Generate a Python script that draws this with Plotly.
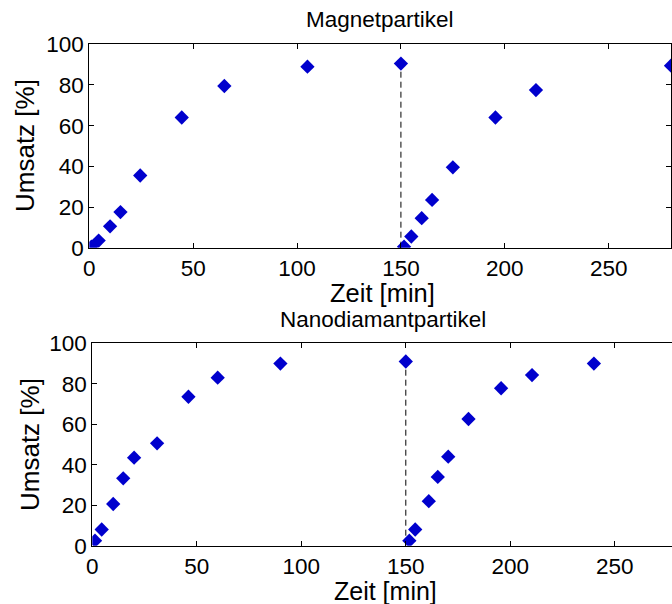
import plotly.graph_objects as go

# ---- data ----
mag_t = [1, 4.5, 10, 15, 24.5, 44.5, 65, 105, 150, 151.5, 155, 160, 165, 175, 195.5, 215, 280]
mag_u = [0.5, 3.5, 10.5, 17.5, 35.5, 64, 79.5, 89, 90.5, 0.5, 5.5, 14.5, 23.5, 39.5, 64, 77.5, 89.5]

nano_t = [1.3, 4.5, 10, 14.8, 20, 31, 46, 60, 90, 150, 151.7, 154.5, 161, 165.3, 170.3, 180, 195.6, 210.4, 240]
nano_u = [2.5, 8, 20.6, 33.3, 43.5, 50.6, 73.6, 83, 90, 91, 2.5, 8, 22, 34, 44, 62.6, 77.8, 84.3, 90]

mag_line_t = [150, 150]
mag_line_u = [0, 90.5]
nano_line_t = [150, 150]
nano_line_u = [0, 91]

titles = ["Magnetpartikel", "Nanodiamantpartikel"]
xlabel = "Zeit [min]"
ylabel = "Umsatz [%]"

W, H = 672, 604
BLUE = "rgb(0,0,205)"
FONT = "Liberation Sans, Arial, Helvetica, sans-serif"

fig = go.Figure()

# top
fig.add_trace(go.Scatter(x=mag_line_t, y=mag_line_u, mode="lines",
                         line=dict(color="black", width=1, dash="6px,4px"),
                         xaxis="x", yaxis="y", showlegend=False, hoverinfo="skip"))
fig.add_trace(go.Scatter(x=mag_t, y=mag_u, mode="markers",
                         marker=dict(symbol="diamond", size=11, color=BLUE, line=dict(width=0)),
                         xaxis="x", yaxis="y", showlegend=False))
# bottom
fig.add_trace(go.Scatter(x=nano_line_t, y=nano_line_u, mode="lines",
                         line=dict(color="black", width=1, dash="6px,4px"),
                         xaxis="x2", yaxis="y2", showlegend=False, hoverinfo="skip"))
fig.add_trace(go.Scatter(x=nano_t, y=nano_u, mode="markers",
                         marker=dict(symbol="diamond", size=11, color=BLUE, line=dict(width=0)),
                         xaxis="x2", yaxis="y2", showlegend=False))

def px_x(p):
    return p / W

def px_y(p):
    return 1 - p / H

ax_common = dict(showgrid=False, zeroline=False, showline=True, linecolor="black", linewidth=1,
                 ticks="inside", ticklen=5, tickcolor="black", tickwidth=1, automargin=False,
                 tickfont=dict(family=FONT, size=22.5, color="black"))

top_left, top_right = 89.3, 671.0
bot_left, bot_right = 92.3, 672.0

fig.update_layout(
    width=W, height=H,
    margin=dict(l=0, r=0, t=0, b=0, pad=0, autoexpand=False),
    paper_bgcolor="white", plot_bgcolor="white",
    font=dict(family=FONT, color="black"),
    xaxis=dict(**ax_common, domain=[px_x(top_left), px_x(top_right)], range=[0, 280],
               dtick=50, tick0=0, mirror="ticks", anchor="y"),
    yaxis=dict(**ax_common, domain=[px_y(247.7), px_y(44.3)], range=[0, 100], dtick=20,
               mirror="ticks", anchor="x"),
    xaxis2=dict(**ax_common, domain=[px_x(bot_left), px_x(bot_right)], range=[0, (bot_right - bot_left) / 2.09],
                dtick=50, tick0=0, mirror="ticks", anchor="y2"),
    yaxis2=dict(**ax_common, domain=[px_y(545.7), px_y(343.3)], range=[0, 100], dtick=20,
                mirror=False, anchor="x2"),
)

ann = []
def add_text(text, xp, yp, size, angle=0):
    ann.append(dict(text=text, x=px_x(xp), y=px_y(yp), xref="paper", yref="paper",
                    xanchor="center", yanchor="middle", showarrow=False, textangle=angle,
                    font=dict(family=FONT, size=size, color="black")))

add_text(titles[0], (top_left + top_right) / 2, 20, 22.5)
add_text(titles[1], 383, 319, 22.5)
add_text(xlabel, 382, 293, 25.5)
add_text(xlabel, 385, 591, 25)
add_text(ylabel, 25, 146, 26, -90)
add_text(ylabel, 30, 445, 26, -90)
fig.update_layout(annotations=ann)

fig.write_html("out.html")
